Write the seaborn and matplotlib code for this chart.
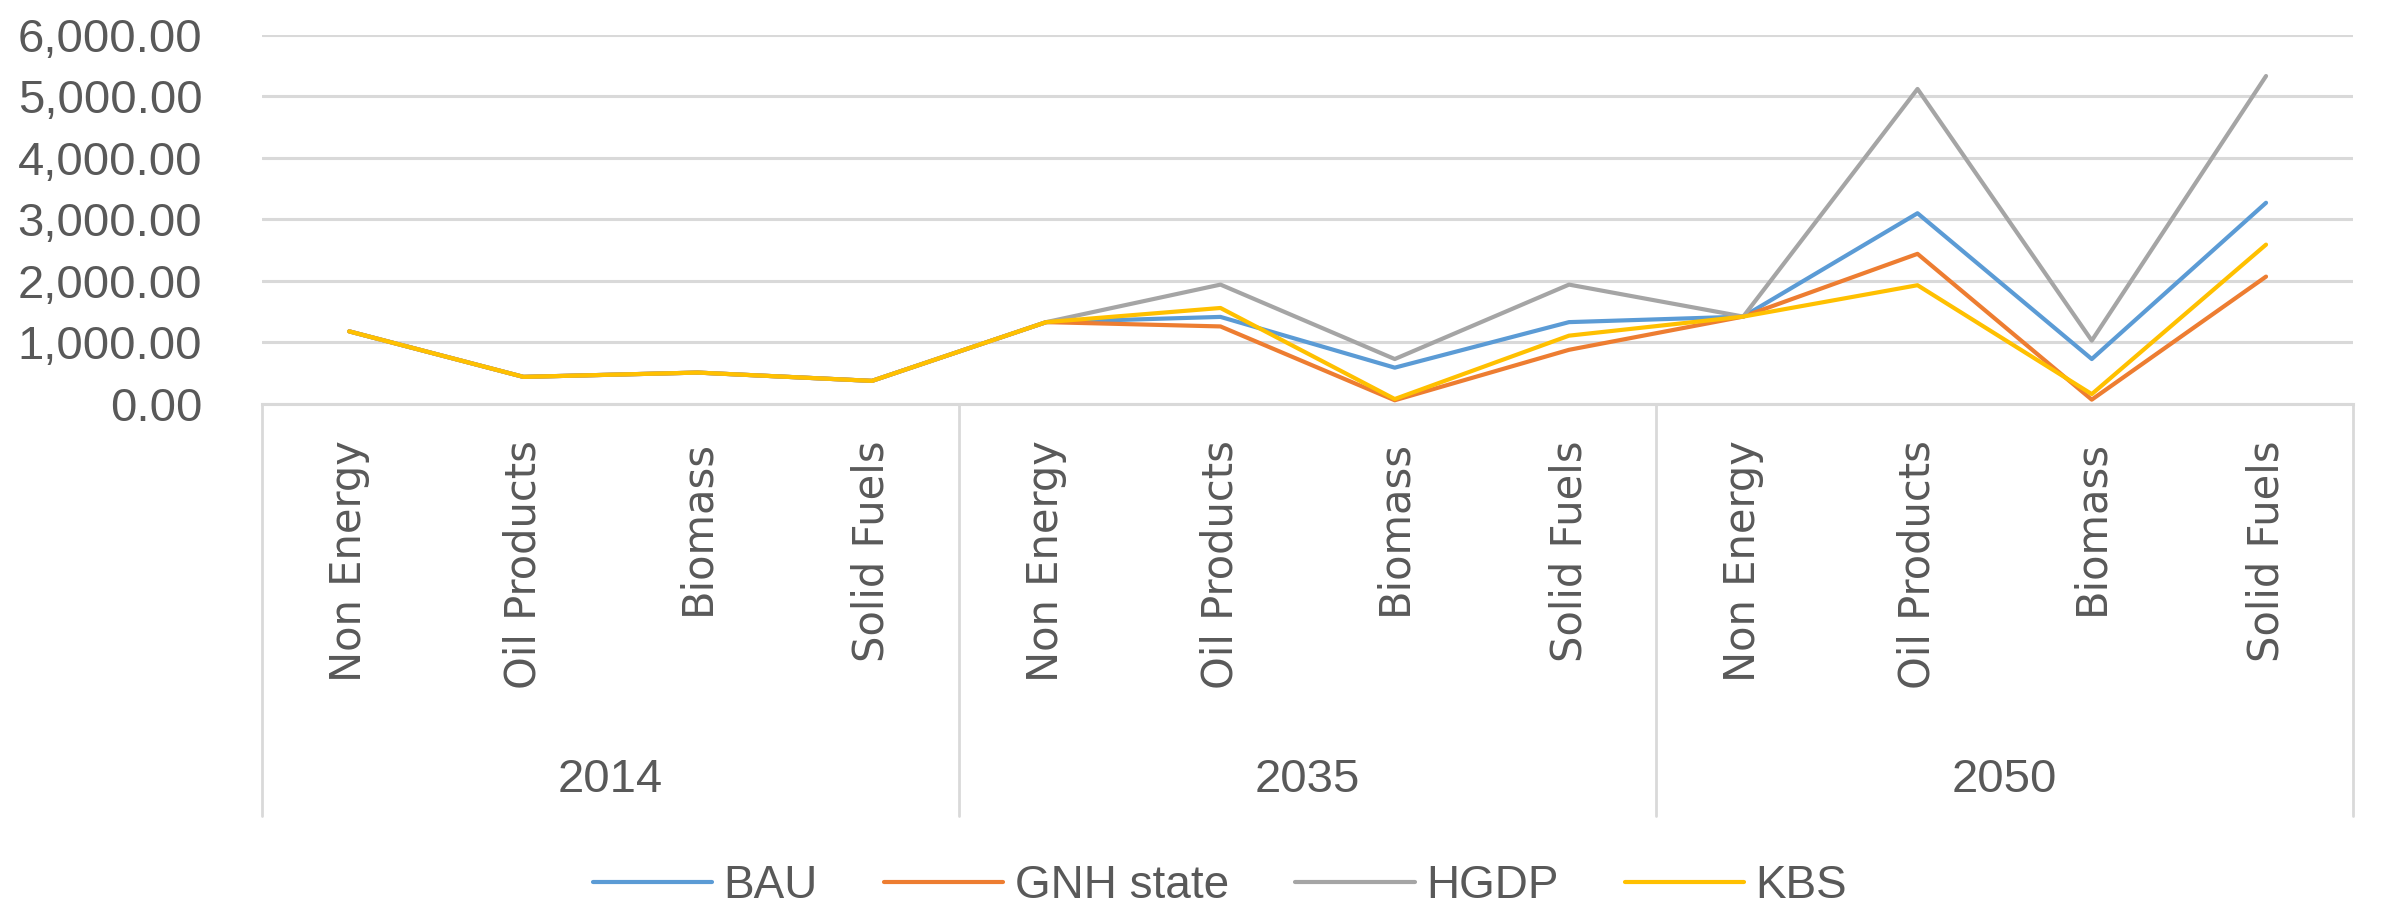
import numpy as np
import pandas as pd
import seaborn as sns
import matplotlib.pyplot as plt
import matplotlib.transforms as mtransforms

sns.set_style("white")

# data
years = ["2014", "2035", "2050"]
fuels = ["Non Energy", "Oil Products", "Biomass", "Solid Fuels"]
series = ["BAU", "GNH state", "HGDP", "KBS"]

bau = [1180, 440, 510, 375, 1330, 1415, 590, 1330, 1420, 3100, 730, 3270]
gnh = [1180, 440, 510, 375, 1330, 1260, 60, 880, 1420, 2440, 70, 2070]
hgdp = [1180, 440, 510, 375, 1330, 1940, 730, 1940, 1420, 5120, 1030, 5330]
kbs = [1180, 440, 510, 375, 1330, 1560, 80, 1110, 1420, 1930, 160, 2590]

colors = ["#5B9BD5", "#ED7D31", "#A5A5A5", "#FFC000"]
font = "Liberation Sans"

rows = []
for name, vals in zip(series, [bau, gnh, hgdp, kbs]):
    for i, v in enumerate(vals):
        rows.append({"pos": i, "value": v, "series": name})
df = pd.DataFrame(rows)

fig = plt.figure(figsize=(23.89, 9.16), dpi=100)
ax = fig.add_axes([0.1097, 0.559, 0.8753, 0.403])

sns.lineplot(data=df, x="pos", y="value", hue="series", palette=colors,
             linewidth=3.0, ax=ax, legend=True)

ax.set_xlim(-0.5, 11.5)
ax.set_ylim(0, 6000)
ax.set_yticks(np.arange(0, 6001, 1000))
ax.set_yticklabels([f"{v:,.2f}" for v in np.arange(0, 6001, 1000)],
                   fontsize=34, color="#595959", family=font)
ax.yaxis.grid(True, color="#D9D9D9", linewidth=2.2)
ax.set_axisbelow(True)
for s in ["top", "right", "left"]:
    ax.spines[s].set_visible(False)
ax.spines["bottom"].set_color("#D9D9D9")
ax.spines["bottom"].set_linewidth(2.2)
ax.tick_params(axis="y", length=0, pad=43)
ax.tick_params(axis="x", length=0, pad=26)
ax.set_xlabel("")
ax.set_ylabel("")

ax.set_xticks(range(12))
ax.set_xticklabels(fuels * 3, rotation=90, fontsize=30, color="#595959",
                   family="DejaVu Sans", va="top")

# group dividers and year labels under the axis
trans = mtransforms.blended_transform_factory(ax.transData, ax.transAxes)
for x in [-0.5, 3.5, 7.5, 11.5]:
    ax.plot([x, x], [0, -1.116], transform=trans, color="#D9D9D9",
            linewidth=2, clip_on=False)
for g, yr in enumerate(years):
    ax.text(g * 4 + 1.5, -1.02, yr, transform=trans, ha="center", va="center",
            fontsize=34, color="#595959", family=font)

handles, labels = ax.get_legend_handles_labels()
ax.legend_.remove()
leg = fig.legend(handles, labels, loc="center", bbox_to_anchor=(0.5107, 0.033),
                 ncol=4, frameon=False, handlelength=2.6, columnspacing=1.45,
                 handletextpad=0.25, prop={"family": font, "size": 33})
for t in leg.get_texts():
    t.set_color("#595959")

fig.savefig("out.png", dpi=100)
